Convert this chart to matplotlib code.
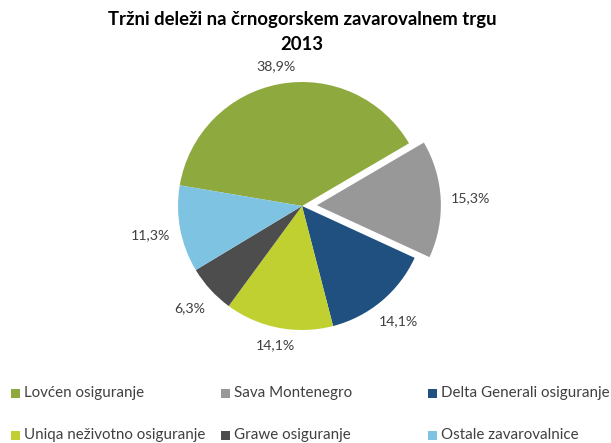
import numpy as np
import matplotlib
matplotlib.use('Agg')
import matplotlib.pyplot as plt
import matplotlib.patches as patches

# Market shares, 2013
companies = ['Lovćen osiguranje', 'Sava Montenegro', 'Delta Generali osiguranje',
             'Uniqa neživotno osiguranje', 'Grawe osiguranje', 'Ostale zavarovalnice']
shares = [38.9, 15.3, 14.1, 14.1, 6.3, 11.3]
colors = ['#8EA93E', '#989898', '#1F5080', '#BFD030', '#4D4D4D', '#7EC4E2']
explode = [0, 0.12, 0, 0, 0, 0]

plt.rcParams['font.family'] = ['Lato', 'DejaVu Sans']

fig = plt.figure(figsize=(6.11, 4.43), dpi=100)
k = 1.5
R = 124.0  # pie radius in pixels
ax = fig.add_axes([(302 - R * k) / 611, (443 - 206 - R * k) / 443,
                   2 * R * k / 611, 2 * R * k / 443])

wedges, _ = ax.pie(shares, colors=colors, explode=explode, startangle=170.4,
                   counterclock=False, radius=1,
                   wedgeprops=dict(linewidth=0))
ax.set_xlim(-k, k)
ax.set_ylim(-k, k)
ax.set_aspect('equal')
ax.axis('off')

# data labels just outside each wedge
for w, s, e in zip(wedges, shares, explode):
    mid = np.deg2rad((w.theta1 + w.theta2) / 2)
    c, sn = np.cos(mid), np.sin(mid)
    r = 1 + e + (7 + abs(c) * 22 + abs(sn) * 7) / R
    ax.text(r * c, r * sn, f'{s:.1f}%'.replace('.', ','),
            ha='center', va='center', fontsize=10.2, color='#404040')

fig.text(0.494, 1 - 20 / 443, 'Tržni deleži na črnogorskem zavarovalnem trgu',
         ha='center', va='center', fontsize=13.3, weight='bold', color='black')
fig.text(0.494, 1 - 45 / 443, '2013',
         ha='center', va='center', fontsize=13.3, weight='bold', color='black')

# legend, row-major, equal column widths like the original
col_x = [11, 221, 428]
row_y = [393, 435]
for i, (name, col) in enumerate(zip(companies, colors)):
    cx = col_x[i % 3]
    cy = row_y[i // 3]
    sq = 9
    fig.add_artist(patches.Rectangle((cx / 611, (443 - cy - sq / 2) / 443),
                                     sq / 611, sq / 443, facecolor=col,
                                     edgecolor='none', transform=fig.transFigure))
    fig.text((cx + 13) / 611, (443 - cy) / 443, name, ha='left', va='center',
             fontsize=10.9, color='#404040')

fig.savefig('out.png', dpi=100)
